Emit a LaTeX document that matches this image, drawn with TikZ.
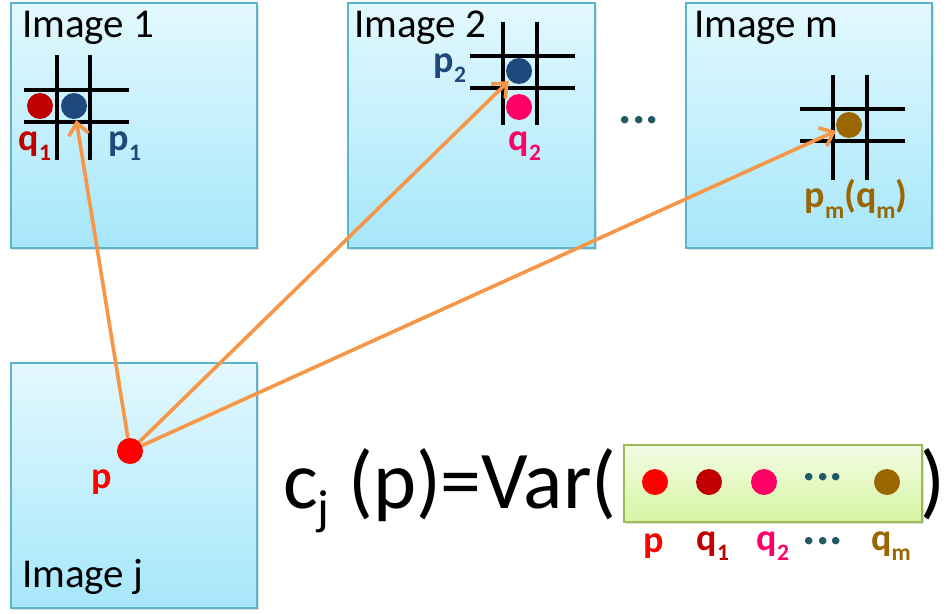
\documentclass[tikz,border=0pt]{standalone}
\usepackage{fontspec}
\setmainfont{Carlito}
\usetikzlibrary{arrows.meta,shadows}
\definecolor{boxtop}{HTML}{E3F8FE}
\definecolor{boxbot}{HTML}{A6E7FA}
\definecolor{boxedge}{HTML}{5AB4CA}
\definecolor{gtop}{HTML}{F3FCE6}
\definecolor{gbot}{HTML}{D6F5A2}
\definecolor{gedge}{HTML}{9BBB59}
\definecolor{cp}{HTML}{FF0000}
\definecolor{cq}{HTML}{C00000}
\definecolor{cqq}{HTML}{FF0066}
\definecolor{cblue}{HTML}{1F497D}
\definecolor{cbrown}{HTML}{996600}
\definecolor{cteal}{HTML}{215967}
\definecolor{corange}{HTML}{F79646}
\newcommand\lsub[1]{\raisebox{-0.28em}{\scalebox{0.62}{#1}}}
\tikzset{
  imgbox/.style={draw=boxedge, line width=1.5pt, top color=boxtop, bottom color=boxbot,
    drop shadow={opacity=0.25, shadow xshift=2pt, shadow yshift=-2pt}},
  greenbox/.style={draw=gedge, line width=1.5pt, top color=gtop, bottom color=gbot,
    drop shadow={opacity=0.25, shadow xshift=2pt, shadow yshift=-2pt}},
  gridline/.style={line width=3.5pt, black},
  dot/.style={circle, fill=#1, inner sep=0pt, minimum size=26pt},
  imglabel/.style={font=\fontsize{41}{45}\selectfont, anchor=base west, inner sep=0pt},
  ptlabel/.style={font=\fontsize{38}{42}\selectfont\bfseries, inner sep=0pt},
  ellip/.style={font=\fontsize{50}{54}\selectfont\bfseries, inner sep=0pt, text=cteal},
  link/.style={corange, line width=3.6pt, -{Straight Barb[length=12pt,width=20pt,line width=3.6pt]}, shorten >=1pt}
}
\begin{document}
\begin{tikzpicture}[x=1pt,y=-1pt]
\useasboundingbox (0,0) rectangle (947,613);
% boxes
\path[imgbox] (11,3) rectangle (257,248);
\path[imgbox] (348,3) rectangle (595,248);
\path[imgbox] (686,3) rectangle (932,248);
\path[imgbox] (11,363) rectangle (257,608);
\node[imglabel] (l1) at (22,37) {Image 1};
\node[imglabel] (l2) at (354,37) {Image 2};
\node[imglabel] (lm) at (694,37) {Image m};
\node[imglabel] (lj) at (22,587) {Image j};
% grid 1
\draw[gridline] (57,55) -- (57,160) (90,55) -- (90,160) (24,90) -- (129,90) (24,122) -- (129,122);
% grid 2
\draw[gridline] (503,22) -- (503,125) (537,22) -- (537,125) (470,56) -- (575,56) (470,88) -- (575,88);
% grid m
\draw[gridline] (833,75) -- (833,180) (867,75) -- (867,180) (800,109) -- (905,109) (800,141) -- (905,141);
% dots in images
\node[dot=cq] (q1) at (40,106) {};
\node[dot=cblue] (p1) at (74,106) {};
\node[dot=cblue] (p2) at (519,71) {};
\node[dot=cqq] (q2) at (519,107) {};
\node[dot=cbrown] (pm) at (849,125) {};
\node[dot=cp] (p) at (130,451) {};
% labels in images
\node[ptlabel, text=cq] (tq1) at (35,146) {q\lsub{1}};
\node[ptlabel, text=cblue] (tp1) at (125,146) {p\lsub{1}};
\node[ptlabel, text=cblue] (tp2) at (450,68) {p\lsub{2}};
\node[ptlabel, text=cqq] (tq2) at (525,146) {q\lsub{2}};
\node[ptlabel, text=cbrown] (tpm) at (856,199) {p\lsub{m}(q\lsub{m})};
\node[ptlabel, text=cp] (tp) at (102,482) {p};
\node[ellip] (dots1) at (639,120) {...};
% arrows
\draw[link] (p) -- (p1);
\draw[link] (p) -- (p2);
\draw[link] (p) -- (pm);
% formula
\node[font=\fontsize{82}{90}\selectfont, anchor=base west, inner sep=0pt] (form) at (283,508)
  {c\raisebox{-0.2em}{\scalebox{0.6}{j}} (p)=Var(};
\path[greenbox] (624,445) rectangle (922,522);
\node[font=\fontsize{82}{90}\selectfont, anchor=base east, inner sep=0pt] (close) at (946,508) {)};
\node[dot=cp] (v1) at (655,482) {};
\node[dot=cq] (v2) at (709,482) {};
\node[dot=cqq] (v3) at (764,482) {};
\node[ellip] (v4) at (823,477) {...};
\node[dot=cbrown] (v5) at (887,482) {};
\node[ptlabel, text=cp] (w1) at (654,546) {p};
\node[ptlabel, text=cq] (w2) at (713,546) {q\lsub{1}};
\node[ptlabel, text=cqq] (w3) at (773,546) {q\lsub{2}};
\node[ellip] (w4) at (823,541) {...};
\node[ptlabel, text=cbrown] (w5) at (891,546) {q\lsub{m}};
\end{tikzpicture}
\end{document}
